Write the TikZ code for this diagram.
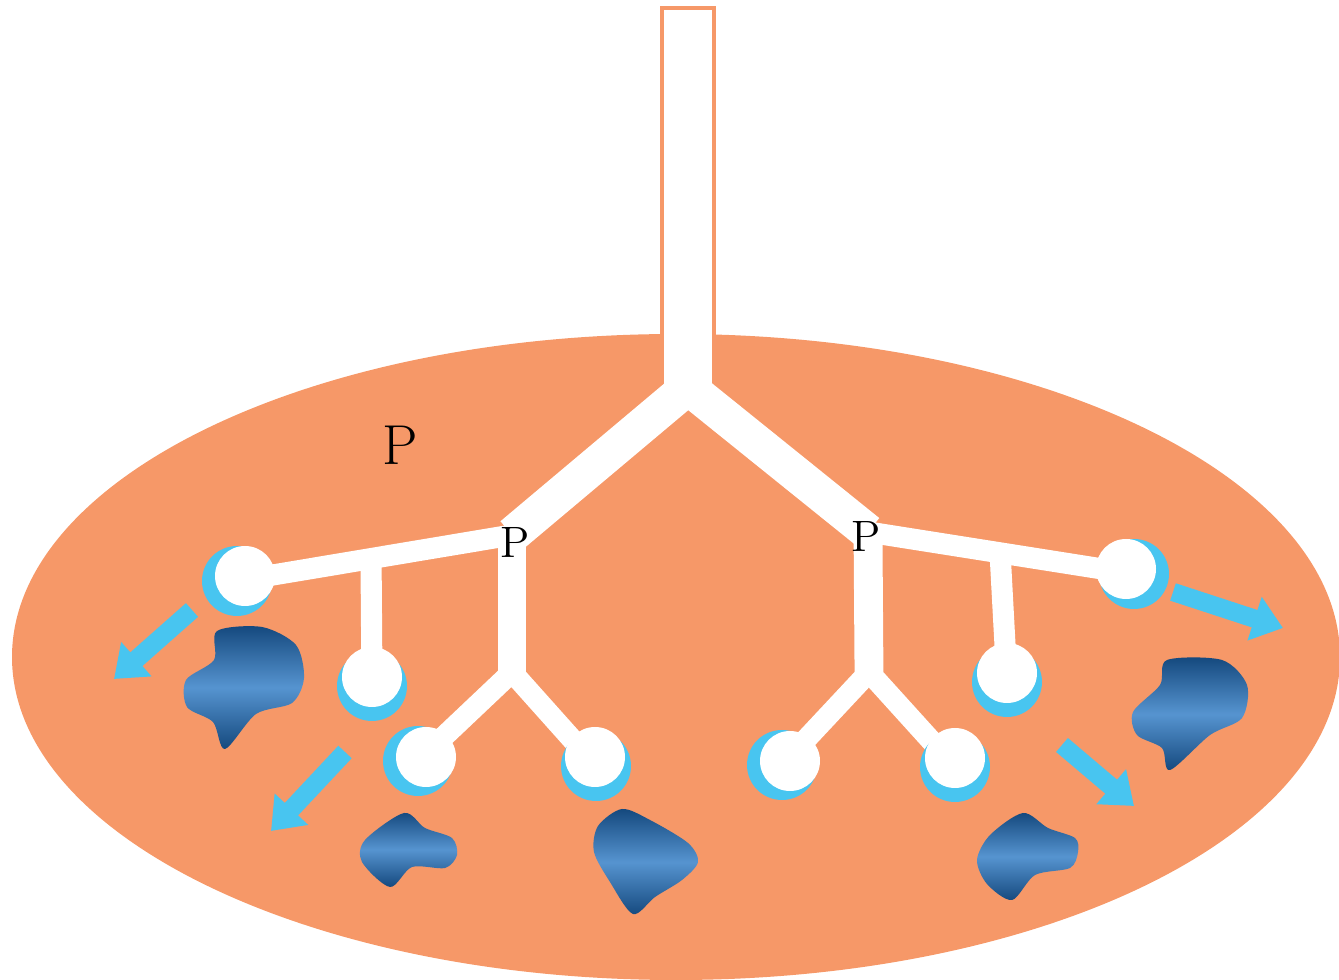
\documentclass[tikz,border=0pt]{standalone}
\usepackage{tikz}
\usetikzlibrary{arrows.meta}
\definecolor{tissue}{RGB}{246,152,104}
\definecolor{ballblue}{RGB}{72,197,240}
\definecolor{dropdark}{RGB}{20,72,125}
\definecolor{dropmid}{RGB}{86,148,208}
\tikzset{
  branch/.style={white,line width=10.2pt,line join=miter},
  arm/.style={white,line width=6pt,line join=miter},
  twig/.style={white,line width=8.2pt},
  flow/.style={ballblue,line width=5.2pt,-{Triangle[length=8.5pt,width=12.5pt]}},
  drop/.style={top color=dropdark,bottom color=dropdark,middle color=dropmid},
  plabel/.style={font=\fontsize{12.5}{14}\selectfont,inner sep=0pt},
  pics/ball/.style 2 args={code={
    \fill[ballblue] (0,0) circle (35);
    \fill[white] (#1,#2) circle (30);}}
}

\begin{document}
\begin{tikzpicture}[x=0.01cm,y=-0.01cm]
  \useasboundingbox (0,0) rectangle (1339,980);
  \fill[tissue] (676,657) ellipse [x radius=664, y radius=323];

  % stem and first fork
  \fill[white] (662,8) -- (662,383) -- (688,410) -- (714,383) -- (714,8) -- cycle;
  \draw[tissue,line width=0.9pt] (662,392) |- (714,8) -- (714,392);
  \coordinate (fork) at (688,387);
  \coordinate (pL) at (512,535);
  \coordinate (pR) at (868,532);
  \draw[branch] (pL) -- (fork) -- (pR);

  % left side
  \coordinate (dropL) at (371,555);
  \coordinate (forkL) at (512,672);
  \coordinate (L1) at (237,581);
  \coordinate (L2) at (372,686);
  \coordinate (L3) at (418,761);
  \coordinate (L4) at (596,766);
  \draw[arm] (pL) -- (L1);
  \draw[arm] (dropL) -- (L2);
  \draw[twig] (pL) -- (forkL);
  \draw[arm] (L3) -- (forkL) -- (L4);

  % right side
  \coordinate (dropR) at (1000,552);
  \coordinate (forkR) at (869,672);
  \coordinate (R1) at (1134,574);
  \coordinate (R2) at (1007,682);
  \coordinate (R3) at (782,765);
  \coordinate (R4) at (955,767);
  \draw[arm] (pR) -- (R1);
  \draw[arm] (dropR) -- (R2);
  \draw[twig] (pR) -- (forkR);
  \draw[arm] (R3) -- (forkR) -- (R4);

  \pic at (L1) {ball={8}{-5}};
  \pic at (L2) {ball={0}{-9}};
  \pic at (L3) {ball={8}{-4}};
  \pic at (L4) {ball={-1}{-9}};
  \pic at (R1) {ball={-8}{-5}};
  \pic at (R2) {ball={0}{-9}};
  \pic at (R3) {ball={8}{-4}};
  \pic at (R4) {ball={0}{-9}};

  % labels
  \node[font=\fontsize{16}{19}\selectfont,inner sep=0pt] (bigP) at (400,445) {P};
  \node[plabel] (labL) at (515,542) {P};
  \node[plabel] (labR) at (866,536) {P};

  % outflow arrows
  \coordinate (a1s) at (192,610); \coordinate (a1e) at (114,679);
  \coordinate (a2s) at (345,752); \coordinate (a2e) at (271,831);
  \coordinate (a3s) at (1173,592); \coordinate (a3e) at (1283,628);
  \coordinate (a4s) at (1062,745); \coordinate (a4e) at (1134,806);
  \draw[flow] (a1s) -- (a1e);
  \draw[flow] (a2s) -- (a2e);
  \draw[flow] (a3s) -- (a3e);
  \draw[flow] (a4s) -- (a4e);

  % drops
  \shade[drop] plot[smooth cycle] coordinates {(217,631) (262,627) (296,645) (304,678) (292,703)
    (256,714) (225,749) (213,722) (187,707) (186,680) (214,660)};
  \shade[drop] plot[smooth cycle] coordinates {(404,813) (425,828) (452,838) (457,855) (445,868)
    (412,867) (390,887) (362,862) (365,840)};
  \shade[drop] plot[smooth cycle] coordinates {(622,809) (650,820) (688,843) (698,862) (682,880)
    (655,897) (633,914) (610,882) (594,852) (598,826)};
  \shade[drop] plot[smooth cycle] coordinates {(1167,660) (1222,660) (1247,685) (1242,718)
    (1210,735) (1170,770) (1162,748) (1137,735) (1133,712) (1160,685)};
  \shade[drop] plot[smooth cycle] coordinates {(1023,813) (1048,828) (1075,838) (1078,852)
    (1070,868) (1035,875) (1012,900) (987,884) (977,860) (990,835)};
\end{tikzpicture}
\end{document}
